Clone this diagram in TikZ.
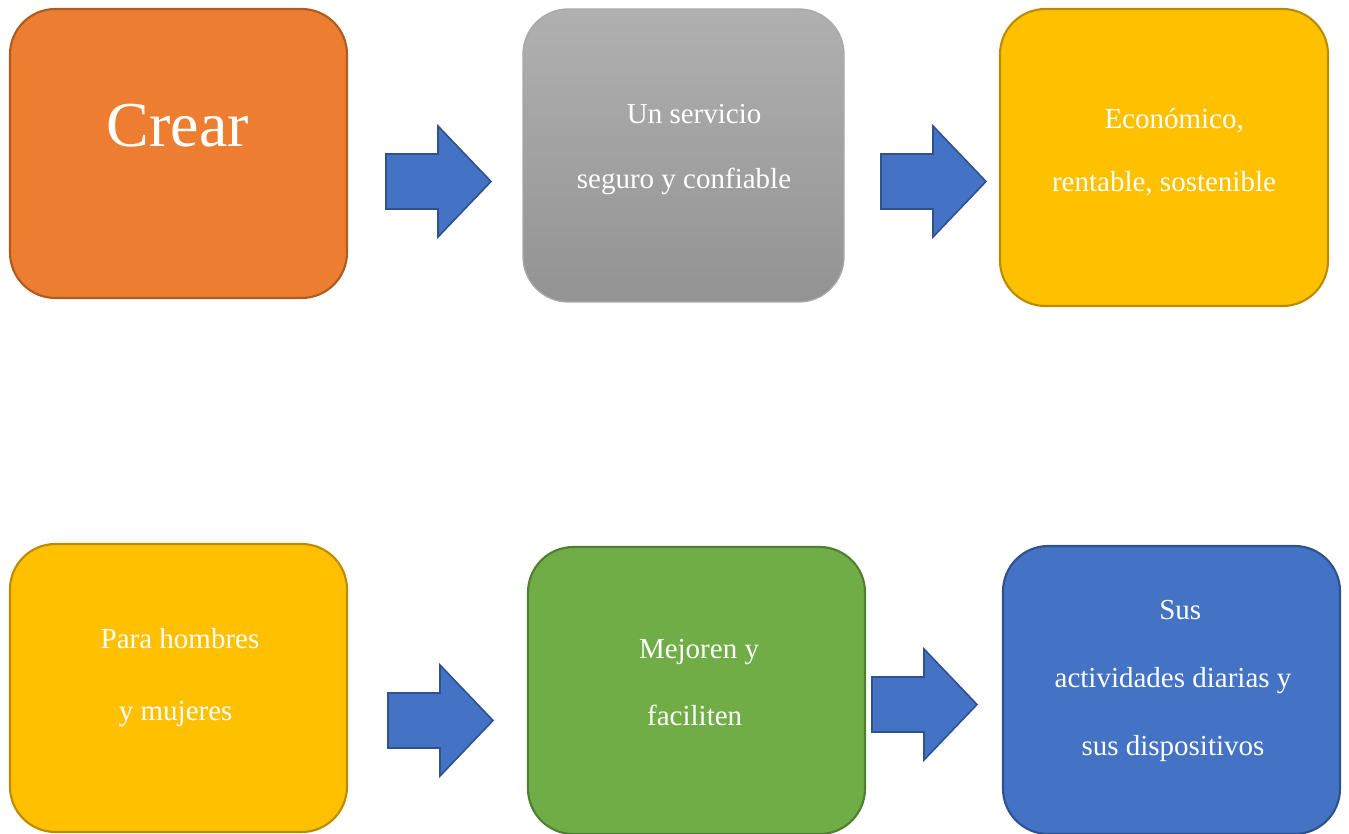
\documentclass[tikz,border=0pt]{standalone}
\usepackage{fontspec}
\setmainfont{Liberation Serif}
\definecolor{orangefill}{HTML}{ED7D31}
\definecolor{orangeline}{HTML}{AE5A21}
\definecolor{yellowfill}{HTML}{FFC000}
\definecolor{yellowline}{HTML}{BC8C00}
\definecolor{greenfill}{HTML}{70AD47}
\definecolor{greenline}{HTML}{507E32}
\definecolor{bluefill}{HTML}{4472C4}
\definecolor{blueline}{HTML}{2F528F}
\definecolor{graytop}{HTML}{B0B0B0}
\definecolor{graybot}{HTML}{939393}
\definecolor{grayline}{HTML}{A8A8A8}
\tikzset{
  box/.style={rounded corners=34pt,line width=1.6pt,minimum width=252pt,minimum height=216pt,inner sep=0pt},
  boxtext/.style={text=white,align=center,font=\fontsize{21.75}{#1}\selectfont},
  boxtext/.default=49pt,
  blockarrow/.style={fill=bluefill,draw=blueline,line width=1.2pt,line join=miter}
}
\begin{document}
\begin{tikzpicture}[x=0.75pt,y=-0.75pt]
\useasboundingbox (0,0) rectangle (1349,834);
\pgfmathsetmacro{\kshaft}{52}
\pgfmathsetmacro{\khead}{53}
\pgfmathsetmacro{\kwing}{28}
% upper row
\node[box,fill=orangefill,draw=orangeline,minimum width=252.75pt,minimum height=216.75pt](crear)at(178.5,153.5){};
\node[box,top color=graytop,bottom color=graybot,draw=grayline,line width=1pt,minimum width=240.75pt,minimum height=219.75pt](servicio)at(683.5,155.5){};
\node[box,fill=yellowfill,draw=yellowline,minimum width=246pt,minimum height=222.75pt](economico)at(1164,157.5){};
% lower row
\node[box,fill=yellowfill,draw=yellowline,minimum width=252.75pt,minimum height=216pt](hombres)at(178.5,688){};
\node[box,fill=greenfill,draw=greenline,minimum width=252.75pt,minimum height=215.25pt](mejoren)at(696.5,690.5){};
\node[box,fill=bluefill,draw=blueline,minimum width=252.75pt,minimum height=216pt](actividades)at(1171.5,690){};
% texts
\node[text=white,font=\fontsize{48}{56}\selectfont](crear-t)at(178,126){Crear};
\node[boxtext=48.75pt](servicio-t)at(684,149.5){\hspace*{0.7em}Un servicio\\seguro y confiable};
\node[boxtext=47.25pt](economico-t)at(1164,152.5){\hspace*{0.7em}Económico,\\rentable, sostenible};
\node[boxtext=54pt](hombres-t)at(180,678){Para hombres\\y mujeres\hspace*{0.3em}};
\node[boxtext=50.25pt](mejoren-t)at(699,682.5){Mejoren y\\faciliten\hspace*{0.3em}};
\node[boxtext=51pt](actividades-t)at(1173,681){\hspace*{0.5em}Sus\\actividades diarias y\\sus dispositivos};
% arrows
\foreach \ax/\ay in {386/154,881/154,388/693,872/677}{
  \draw[blockarrow](\ax,\ay)--++(\kshaft,0)--++(0,-\kwing)--++(\khead,55.5)--++(-\khead,55.5)--++(0,-\kwing)--++(-\kshaft,0)--cycle;
}
\end{tikzpicture}
\end{document}
